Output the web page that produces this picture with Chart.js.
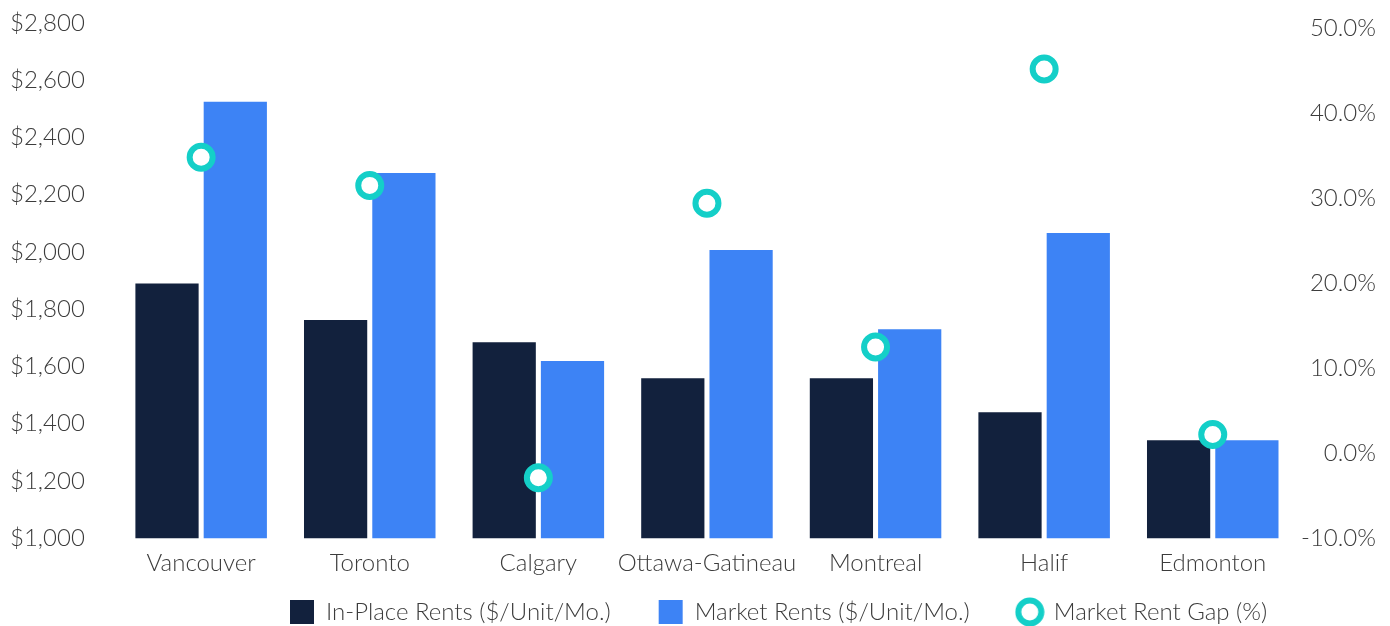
<!DOCTYPE html>
<html>
<head>
<meta charset="utf-8">
<script src="https://cdn.jsdelivr.net/npm/chart.js@4/dist/chart.umd.min.js"></script>
<style>
  html, body { margin: 0; padding: 0; background: #fff; }
  #wrap { width: 1390px; height: 626px; }
</style>
</head>
<body>
<div id="wrap"><canvas id="rentChart"></canvas></div>
<script>
// Data
const cities = ['Vancouver', 'Toronto', 'Calgary', 'Ottawa-Gatineau', 'Montreal', 'Halif', 'Edmonton'];
const inPlaceRents = [1890, 1762, 1685, 1559, 1559, 1440, 1342];
const marketRents = [2525, 2276, 1619, 2007, 1730, 2066, 1342];
const rentGap = [34.8, 31.5, -2.9, 29.4, 12.5, 45.2, 2.2];
const rentTicks = [1000, 2800, 200];   // min, max, step
const gapTicks = [-10, 50.6, 10];      // top sits a little above the 50% label

const navy = '#12213d';
const blue = '#3d83f5';
const teal = '#14cfc8';
const textGrey = '#3c3c3c';

const legendGap = 48;

// small legend marker for the gap series
function ringMarker() {
  const c = document.createElement('canvas');
  c.width = 30; c.height = 30;
  const g = c.getContext('2d');
  g.beginPath();
  g.arc(15, 15, 11.5, 0, Math.PI * 2);
  g.fillStyle = '#fff';
  g.fill();
  g.lineWidth = 6;
  g.strokeStyle = teal;
  g.stroke();
  return c;
}
const ring = ringMarker();

// wide gaps between legend items but a short legend box
const legendPlacement = {
  id: 'legendPlacement',
  beforeUpdate(chart) {
    const lg = chart.legend;
    if (!lg || lg._shortFit) return;
    const fit = lg.fit;
    lg.fit = function () {
      fit.call(this);
      this.height = 48;
    };
    lg._shortFit = true;
  },
  afterLayout(chart) {
    const lg = chart.legend;
    lg.top = 600 - legendGap;
    lg.left = 290 - legendGap;
  }
};

// chart.js reserves tick padding twice, keep it once
function trimY(scale) {
  scale.width -= scale.options.ticks.padding;
  scale.paddingTop = 23;
  scale.paddingBottom = 14;
}

Chart.defaults.font.family = 'Lato, "Open Sans", sans-serif';
Chart.defaults.font.weight = '300';
Chart.defaults.color = textGrey;

const ctx = document.getElementById('rentChart').getContext('2d');
new Chart(ctx, {
  type: 'bar',
  data: {
    labels: cities,
    datasets: [
      {
        label: 'In-Place Rents ($/Unit/Mo.)',
        data: inPlaceRents,
        backgroundColor: navy,
        pointStyle: 'rect',
        yAxisID: 'y',
        order: 1
      },
      {
        label: 'Market Rents ($/Unit/Mo.)',
        data: marketRents,
        backgroundColor: blue,
        pointStyle: 'rect',
        yAxisID: 'y',
        order: 1
      },
      {
        type: 'line',
        label: 'Market Rent Gap (%)',
        data: rentGap,
        showLine: false,
        pointRadius: 11.5,
        pointHoverRadius: 11.5,
        pointBorderWidth: 6,
        pointBorderColor: teal,
        pointBackgroundColor: '#fff',
        borderColor: teal,
        backgroundColor: '#fff',
        yAxisID: 'y1',
        order: 0
      }
    ]
  },
  plugins: [legendPlacement],
  options: {
    responsive: true,
    maintainAspectRatio: false,
    animation: false,
    layout: { autoPadding: false, padding: { left: 10, right: 14, top: 9, bottom: 0 } },
    datasets: {
      bar: { categoryPercentage: 0.81, barPercentage: 0.926 }
    },
    plugins: {
      tooltip: { enabled: false },
      legend: {
        position: 'bottom',
        align: 'start',
        labels: {
          usePointStyle: true,
          boxWidth: 24,
          boxHeight: 24,
          padding: legendGap,
          color: textGrey,
          font: { size: 24 },
          sort: (a, b) => a.datasetIndex - b.datasetIndex,
          generateLabels(chart) {
            const items = Chart.defaults.plugins.legend.labels.generateLabels(chart);
            items.forEach(it => {
              if (it.datasetIndex === 2) it.pointStyle = ring;
            });
            return items;
          }
        }
      }
    },
    scales: {
      x: {
        grid: { display: false, drawTicks: false },
        border: { display: false },
        ticks: { font: { size: 24 }, color: textGrey, padding: 11, maxRotation: 0, autoSkip: false },
        afterFit(scale) {
          scale.paddingLeft = 0;
          scale.paddingRight = 0;
          scale.height -= scale.options.ticks.padding;
        }
      },
      y: {
        position: 'left',
        min: rentTicks[0],
        max: rentTicks[1],
        grid: { display: false, drawTicks: false },
        border: { display: false },
        afterFit: trimY,
        ticks: {
          stepSize: rentTicks[2],
          padding: 32,
          font: { size: 24 },
          color: textGrey,
          callback: v => '$' + v.toLocaleString('en-US')
        }
      },
      y1: {
        position: 'right',
        min: gapTicks[0],
        max: gapTicks[1],
        grid: { display: false, drawTicks: false },
        border: { display: false },
        afterFit: trimY,
        ticks: {
          stepSize: gapTicks[2],
          includeBounds: false,
          padding: 4,
          crossAlign: 'far',
          font: { size: 24 },
          color: textGrey,
          callback: v => v.toFixed(1) + '%'
        }
      }
    }
  }
});
</script>
</body>
</html>
